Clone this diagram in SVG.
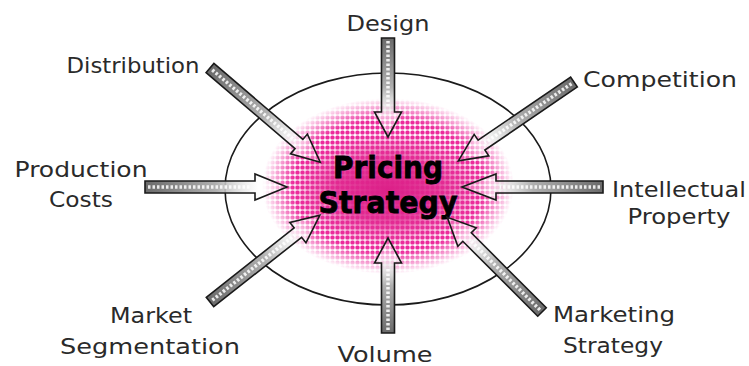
<svg xmlns="http://www.w3.org/2000/svg" width="749" height="366" viewBox="0 0 749 366">
<defs>
<style>
.lbl{font-family:"DejaVu Sans","Liberation Sans",sans-serif;font-size:22px;fill:#2a2a2a;}
.title{font-family:"DejaVu Sans","Liberation Sans",sans-serif;font-weight:bold;font-size:30px;fill:#000;stroke:#000;stroke-width:0.8;}
.arr{fill:url(#ag);stroke:#1a1a1a;stroke-width:1.6;stroke-linejoin:miter;}
.tex{stroke:#fff;stroke-width:3.5;stroke-dasharray:2.5 2;opacity:0.85;fill:none;}
</style>
<pattern id="dots" width="5" height="5" patternUnits="userSpaceOnUse">
<rect x="0.4" y="0.4" width="4.2" height="4.2" rx="1.6" fill="#ec2a9c"/>
</pattern>
<radialGradient id="fade" cx="0.5" cy="0.5" r="0.5">
<stop offset="0" stop-color="#fff"/>
<stop offset="0.75" stop-color="#fff"/>
<stop offset="1" stop-color="#000"/>
</radialGradient>
<mask id="blobMask" maskUnits="userSpaceOnUse" x="0" y="0" width="749" height="366">
<ellipse cx="388" cy="186" rx="126" ry="88" fill="url(#fade)"/>
</mask>
<radialGradient id="core" cx="0.5" cy="0.5" r="0.5">
<stop offset="0" stop-color="#dc2088" stop-opacity="1"/>
<stop offset="0.5" stop-color="#e0288f" stop-opacity="0.85"/>
<stop offset="1" stop-color="#e5399a" stop-opacity="0"/>
</radialGradient>
<linearGradient id="ag" x1="0" y1="0" x2="1" y2="0">
<stop offset="0" stop-color="#6a6a6a"/>
<stop offset="0.5" stop-color="#b0b0b0"/>
<stop offset="0.8" stop-color="#ffffff" stop-opacity="0.55"/>
<stop offset="1" stop-color="#ffffff" stop-opacity="0.15"/>
</linearGradient>
</defs>
<rect width="749" height="366" fill="#fff"/>

<g id="ring">
<ellipse cx="388" cy="189" rx="163" ry="116" fill="none" stroke="#1a1a1a" stroke-width="1.6"/>
</g>

<g id="pricing-strategy">
<rect x="250" y="90" width="276" height="190" fill="url(#dots)" mask="url(#blobMask)"/>
<ellipse cx="388" cy="190" rx="100" ry="58" fill="url(#core)"/>
<text class="title" x="388" y="178" text-anchor="middle" textLength="110" lengthAdjust="spacingAndGlyphs">Pricing</text>
<text class="title" x="388" y="213" text-anchor="middle" textLength="139" lengthAdjust="spacingAndGlyphs">Strategy</text>
</g>

<g id="connectors">
<g transform="translate(388,38) rotate(90)">
<polygon class="arr" points="0,-6.5 74,-6.5 74,-13.5 99,0 74,13.5 74,6.5 0,6.5"/>
<line class="tex" x1="3" y1="0" x2="70" y2="0"/>
</g>
<g transform="translate(210,68) rotate(40.5)">
<polygon class="arr" points="0,-6 117,-6 117,-13 145,0 117,13 117,6 0,6"/>
<line class="tex" x1="3" y1="0" x2="112" y2="0"/>
</g>
<g transform="translate(574,82) rotate(145.7)">
<polygon class="arr" points="0,-6 112,-6 112,-13 140,0 112,13 112,6 0,6"/>
<line class="tex" x1="3" y1="0" x2="108" y2="0"/>
</g>
<g transform="translate(145,187)">
<polygon class="arr" points="0,-6 110,-6 110,-13 142,0 110,13 110,6 0,6"/>
<line class="tex" x1="3" y1="0" x2="106" y2="0"/>
</g>
<g transform="translate(603,187) rotate(180)">
<polygon class="arr" points="0,-6 107,-6 107,-13 141,0 107,13 107,6 0,6"/>
<line class="tex" x1="3" y1="0" x2="103" y2="0"/>
</g>
<g transform="translate(210,302) rotate(-38.3)">
<polygon class="arr" points="0,-6 112,-6 112,-13 140,0 112,13 112,6 0,6"/>
<line class="tex" x1="3" y1="0" x2="108" y2="0"/>
</g>
<g transform="translate(388,333) rotate(-90)">
<polygon class="arr" points="0,-6.5 70,-6.5 70,-13.5 95,0 70,13.5 70,6.5 0,6.5"/>
<line class="tex" x1="3" y1="0" x2="66" y2="0"/>
</g>
<g transform="translate(542,312) rotate(-135)">
<polygon class="arr" points="0,-6 106,-6 106,-13 134,0 106,13 106,6 0,6"/>
<line class="tex" x1="3" y1="0" x2="102" y2="0"/>
</g>
</g>

<g id="design"><text class="lbl" x="388" y="31" text-anchor="middle" textLength="83" lengthAdjust="spacingAndGlyphs">Design</text></g>
<g id="distribution"><text class="lbl" x="133" y="73" text-anchor="middle" textLength="133" lengthAdjust="spacingAndGlyphs">Distribution</text></g>
<g id="competition"><text class="lbl" x="660" y="87" text-anchor="middle" textLength="154" lengthAdjust="spacingAndGlyphs">Competition</text></g>
<g id="production-costs">
<text class="lbl" x="81" y="177" text-anchor="middle" textLength="133" lengthAdjust="spacingAndGlyphs">Production</text>
<text class="lbl" x="81" y="207" text-anchor="middle" textLength="64" lengthAdjust="spacingAndGlyphs">Costs</text>
</g>
<g id="intellectual-property">
<text class="lbl" x="679" y="197" text-anchor="middle" textLength="134" lengthAdjust="spacingAndGlyphs">Intellectual</text>
<text class="lbl" x="679" y="224" text-anchor="middle" textLength="103" lengthAdjust="spacingAndGlyphs">Property</text>
</g>
<g id="market-segmentation">
<text class="lbl" x="151" y="323" text-anchor="middle" textLength="82" lengthAdjust="spacingAndGlyphs">Market</text>
<text class="lbl" x="150" y="354" text-anchor="middle" textLength="180" lengthAdjust="spacingAndGlyphs">Segmentation</text>
</g>
<g id="volume"><text class="lbl" x="385" y="362" text-anchor="middle" textLength="95" lengthAdjust="spacingAndGlyphs">Volume</text></g>
<g id="marketing-strategy">
<text class="lbl" x="614" y="322" text-anchor="middle" textLength="122" lengthAdjust="spacingAndGlyphs">Marketing</text>
<text class="lbl" x="613" y="353" text-anchor="middle" textLength="100" lengthAdjust="spacingAndGlyphs">Strategy</text>
</g>
</svg>
